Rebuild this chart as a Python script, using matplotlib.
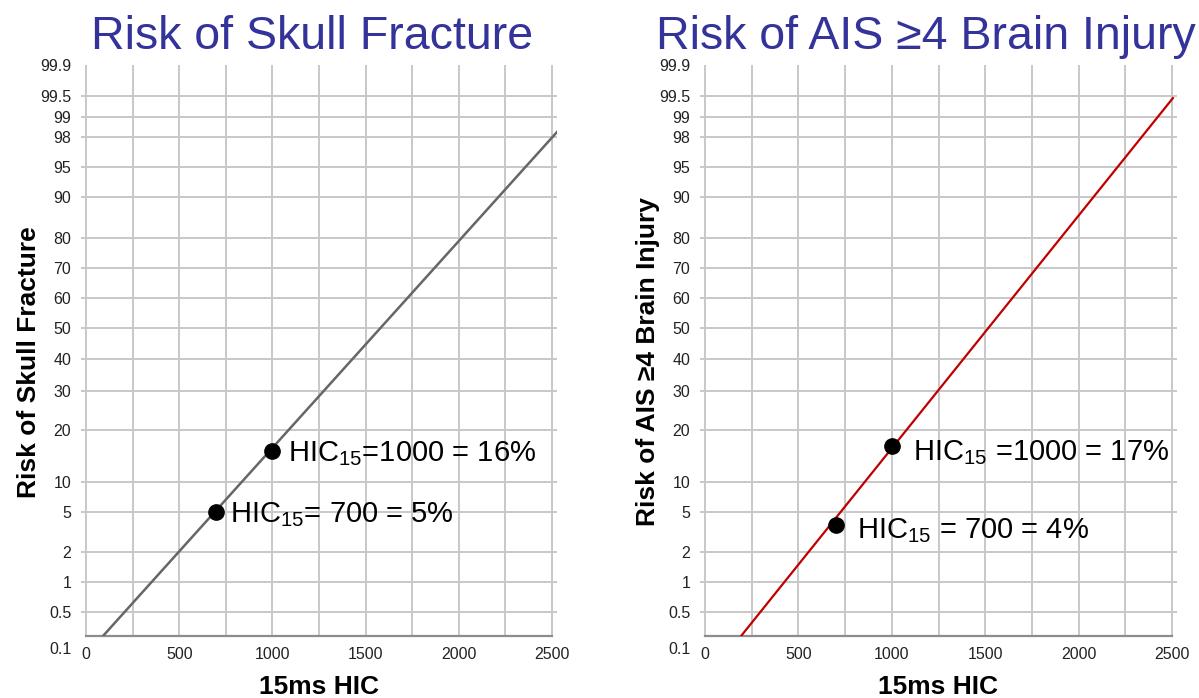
import numpy as np
import matplotlib
matplotlib.use('Agg')
import matplotlib.pyplot as plt
from matplotlib.ticker import MultipleLocator, NullLocator
from matplotlib.transforms import ScaledTranslation

plt.rcParams['font.family'] = ['Liberation Sans', 'DejaVu Sans']
plt.rcParams['mathtext.default'] = 'regular'

# risk axis: tick values and their height above the 0.1 line (chart units)
risk_ticks = [0.1, 0.5, 1, 2, 5, 10, 20, 30, 40, 50, 60, 70, 80, 90, 95, 98, 99, 99.5, 99.9]
risk_tick_labels = ['0.1', '0.5', '1', '2', '5', '10', '20', '30', '40', '50',
                    '60', '70', '80', '90', '95', '98', '99', '99.5', '99.9']
risk_tick_height = [0, 24, 54, 84, 124, 154, 206, 245, 277, 308, 338, 368,
                    398, 439, 469, 499, 519, 540, 571]

hic_ticks = [0, 500, 1000, 1500, 2000, 2500]

# skull fracture risk curve and the two marked points
skull_line_hic = [91, 2527]
skull_line_risk = [0.1, 98.25]
skull_pts_hic = [700, 1000]
skull_pts_risk = [5, 16]
skull_pts_text = [r'HIC$_{15}$= 700 = 5%', r'HIC$_{15}$=1000 = 16%']

# AIS 4+ brain injury risk curve and points
brain_line_hic = [193, 2505]
brain_line_risk = [0.1, 99.45]
brain_pts_hic = [700, 1000]
brain_pts_risk = [4, 17]
brain_pts_text = [r'HIC$_{15}$ = 700 = 4%', r'HIC$_{15}$ =1000 = 17%']


def risk_fwd(p):
    return np.interp(p, risk_ticks, risk_tick_height)


def risk_inv(h):
    return np.interp(h, risk_tick_height, risk_ticks)


GRID = '#c8c8c8'
TITLE_BLUE = '#333399'

fig = plt.figure(figsize=(11.99, 6.98), dpi=100)
ax1 = fig.add_axes([81 / 1199, 62 / 698, 476 / 1199, 571 / 698])
ax2 = fig.add_axes([700 / 1199, 62 / 698, 477 / 1199, 571 / 698])


def setup_axes(ax, ylabel, ylabel_x):
    ax.set_yscale('function', functions=(risk_fwd, risk_inv))
    ax.set_xlim(-27, 2527)
    ax.set_ylim(0.1, 99.9)
    ax.set_yticks(risk_ticks)
    ax.set_yticklabels(risk_tick_labels)
    ax.yaxis.set_minor_locator(NullLocator())
    ax.set_xticks(hic_ticks)
    ax.xaxis.set_minor_locator(MultipleLocator(250))
    ax.tick_params(axis='both', which='both', length=0, labelsize=11.5,
                   colors='#222222')
    ax.tick_params(axis='y', pad=7)
    ax.tick_params(axis='x', pad=8)
    ax.grid(True, axis='x', which='both', color=GRID, lw=1.4)
    ax.grid(True, axis='y', which='major', color=GRID, lw=1.4)
    ax.set_axisbelow(True)
    for s in ['left', 'right', 'top']:
        ax.spines[s].set_visible(False)
    ax.spines['bottom'].set_bounds(0, 2500)
    ax.spines['bottom'].set_color('#8c8c8c')
    ax.spines['bottom'].set_linewidth(1.6)

    # no gridline at the top/bottom values, 0.1 label sits under its line
    yt = ax.yaxis.get_major_ticks()
    yt[0].gridline.set_visible(False)
    yt[-1].gridline.set_visible(False)
    lab = yt[0].label1
    lab.set_transform(lab.get_transform() +
                      ScaledTranslation(0, -0.12, fig.dpi_scale_trans))

    ax.set_ylabel(ylabel, fontsize=19, fontweight='bold')
    ax.yaxis.set_label_coords(ylabel_x, 0.48)
    ax.set_xlabel('15ms HIC', fontsize=19, fontweight='bold')
    ax.xaxis.set_label_coords(0.5, -0.068)


setup_axes(ax1, 'Risk of Skull Fracture', -0.085)
setup_axes(ax2, 'Risk of AIS ≥4 Brain Injury', -0.083)

# left: skull fracture
ax1.plot(skull_line_hic, skull_line_risk, color='#666666', lw=1.8, zorder=3)
ax1.plot(skull_pts_hic, skull_pts_risk, 'o', color='black', ms=11, zorder=4)
for x, p, t, off in zip(skull_pts_hic, skull_pts_risk, skull_pts_text,
                        [(10, -7.5), (11.5, -7.5)]):
    ax1.annotate(t, (x, p), xytext=off, textcoords='offset points',
                 fontsize=21, ha='left', va='baseline', color='black')

# right: brain injury
ax2.plot(brain_line_hic, brain_line_risk, color='#c00000', lw=1.6, zorder=3)
ax2.plot(brain_pts_hic, brain_pts_risk, 'o', color='black', ms=11, zorder=4)
for x, p, t, off in zip(brain_pts_hic, brain_pts_risk, brain_pts_text,
                        [(15, -9), (15, -10.5)]):
    ax2.annotate(t, (x, p), xytext=off, textcoords='offset points',
                 fontsize=21, ha='left', va='baseline', color='black')

fig.text(312.5 / 1199, 1 - 49 / 698, 'Risk of Skull Fracture', fontsize=33.5,
         color=TITLE_BLUE, ha='center', va='baseline')
fig.text(926 / 1199, 1 - 49 / 698, 'Risk of AIS ≥4 Brain Injury', fontsize=33.5,
         color=TITLE_BLUE, ha='center', va='baseline')

fig.savefig('out.png', dpi=100, facecolor='white')
